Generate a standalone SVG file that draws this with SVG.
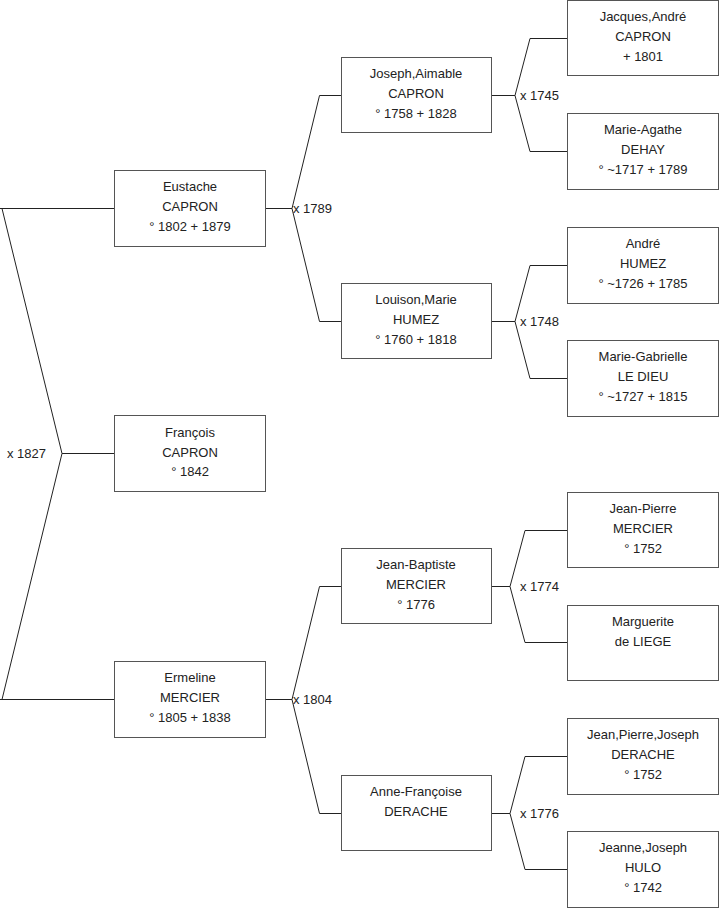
<svg xmlns="http://www.w3.org/2000/svg" width="719" height="908" viewBox="0 0 719 908">
<style>
.box{fill:#fff;stroke:#555;stroke-width:1}
.ln{fill:none;stroke:#222;stroke-width:1}
text{font-family:"Liberation Sans",Arial,sans-serif;font-size:13px;fill:#222}
.c{text-anchor:middle}
</style>
<rect width="719" height="908" fill="#fff"/>
<g id="connectors">
<path class="ln" d="M0,208.5H114.5M2,208.5L62,453.5L2,699.5M0,699.5H114.5M62,453.5H114.5"/>
<path class="ln" d="M265,208.5H292L319.5,95.5H341M292,208.5L319.5,321.5H341"/>
<path class="ln" d="M265,699.5H292L319.5,586.5H341M292,699.5L319.5,813.5H341"/>
<path class="ln" d="M491,95.5H515L530,38.5H567M515,95.5L530,151.5H567"/>
<path class="ln" d="M491,321.5H515L530,265.5H567M515,321.5L530,378.5H567"/>
<path class="ln" d="M491,586.5H510L525,530.5H567M510,586.5L525,642.5H567"/>
<path class="ln" d="M491,813.5H510L525,756.5H567M510,813.5L525,869.5H567"/>
<text x="293" y="212.5">x 1789</text>
<text x="293" y="703.5">x 1804</text>
<text x="7" y="457.5">x 1827</text>
<text x="520" y="99.5">x 1745</text>
<text x="520" y="325.5">x 1748</text>
<text x="520" y="590.5">x 1774</text>
<text x="520" y="817.5">x 1776</text>
</g>
<g id="eustache"><rect class="box" x="114.5" y="170.5" width="151" height="76"/><text class="c" x="190" y="191">Eustache</text><text class="c" x="190" y="211">CAPRON</text><text class="c" x="190" y="230.5">° 1802 + 1879</text></g>
<g id="francois"><rect class="box" x="114.5" y="415.5" width="151" height="76"/><text class="c" x="190" y="436.5">François</text><text class="c" x="190" y="456.5">CAPRON</text><text class="c" x="190" y="476">° 1842</text></g>
<g id="ermeline"><rect class="box" x="114.5" y="661.5" width="151" height="76"/><text class="c" x="190" y="682">Ermeline</text><text class="c" x="190" y="702">MERCIER</text><text class="c" x="190" y="721.5">° 1805 + 1838</text></g>
<g id="joseph"><rect class="box" x="341.5" y="57.5" width="150" height="75"/><text class="c" x="416" y="78">Joseph,Aimable</text><text class="c" x="416" y="98">CAPRON</text><text class="c" x="416" y="117.5">° 1758 + 1828</text></g>
<g id="louison"><rect class="box" x="341.5" y="283.5" width="150" height="75"/><text class="c" x="416" y="304">Louison,Marie</text><text class="c" x="416" y="324">HUMEZ</text><text class="c" x="416" y="343.5">° 1760 + 1818</text></g>
<g id="jeanbaptiste"><rect class="box" x="341.5" y="548.5" width="150" height="75"/><text class="c" x="416" y="569">Jean-Baptiste</text><text class="c" x="416" y="589">MERCIER</text><text class="c" x="416" y="608.5">° 1776</text></g>
<g id="annefrancoise"><rect class="box" x="341.5" y="775.5" width="150" height="75"/><text class="c" x="416" y="796">Anne-Françoise</text><text class="c" x="416" y="816">DERACHE</text></g>
<g id="jacques"><rect class="box" x="567.5" y="0.5" width="151" height="75"/><text class="c" x="643" y="21">Jacques,André</text><text class="c" x="643" y="41">CAPRON</text><text class="c" x="643" y="60.5">+ 1801</text></g>
<g id="marieagathe"><rect class="box" x="567.5" y="113.5" width="151" height="76"/><text class="c" x="643" y="134">Marie-Agathe</text><text class="c" x="643" y="154">DEHAY</text><text class="c" x="643" y="173.5">° ~1717 + 1789</text></g>
<g id="andre"><rect class="box" x="567.5" y="227.5" width="151" height="76"/><text class="c" x="643" y="248">André</text><text class="c" x="643" y="268">HUMEZ</text><text class="c" x="643" y="287.5">° ~1726 + 1785</text></g>
<g id="mariegabrielle"><rect class="box" x="567.5" y="340.5" width="151" height="76"/><text class="c" x="643" y="361">Marie-Gabrielle</text><text class="c" x="643" y="381">LE DIEU</text><text class="c" x="643" y="400.5">° ~1727 + 1815</text></g>
<g id="jeanpierre"><rect class="box" x="567.5" y="492.5" width="151" height="75"/><text class="c" x="643" y="513">Jean-Pierre</text><text class="c" x="643" y="533">MERCIER</text><text class="c" x="643" y="552.5">° 1752</text></g>
<g id="marguerite"><rect class="box" x="567.5" y="605.5" width="151" height="75"/><text class="c" x="643" y="626">Marguerite</text><text class="c" x="643" y="646">de LIEGE</text></g>
<g id="jeanpierrejoseph"><rect class="box" x="567.5" y="718.5" width="151" height="76"/><text class="c" x="643" y="739">Jean,Pierre,Joseph</text><text class="c" x="643" y="759">DERACHE</text><text class="c" x="643" y="778.5">° 1752</text></g>
<g id="jeanne"><rect class="box" x="567.5" y="831.5" width="151" height="76"/><text class="c" x="643" y="852">Jeanne,Joseph</text><text class="c" x="643" y="872">HULO</text><text class="c" x="643" y="891.5">° 1742</text></g>
</svg>
